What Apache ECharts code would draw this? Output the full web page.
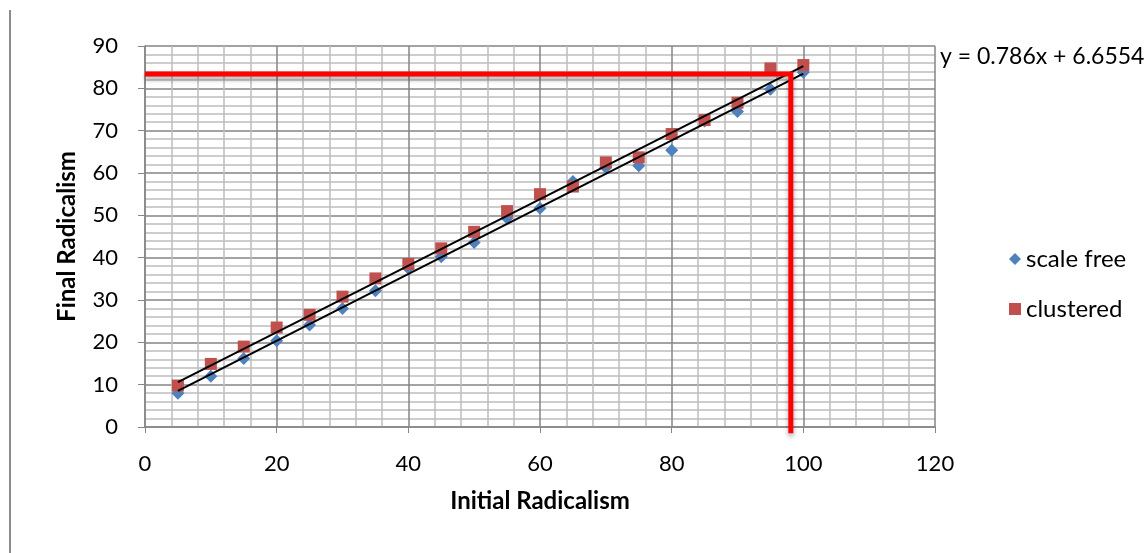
<!DOCTYPE html>
<html>
<head>
<meta charset="utf-8">
<script src="https://cdn.jsdelivr.net/npm/echarts@6/dist/echarts.min.js"></script>
<style>
  html, body { margin: 0; padding: 0; background: #fff; }
  #chart { width: 1148px; height: 553px; }
</style>
</head>
<body>
<div id="chart"></div>
<script>
var initial = [5, 10, 15, 20, 25, 30, 35, 40, 45, 50, 55, 60, 65, 70, 75, 80, 85, 90, 95, 100];
var scaleFree = [8, 12, 16.2, 20.4, 24.1, 28, 32.2, 37.5, 40.2, 43.6, 49.3, 51.7, 58, 61.3, 61.7, 65.4, 72.3, 74.5, 79.8, 83.8];
var clustered = [9.8, 14.9, 19, 23.5, 26.5, 30.8, 35.1, 38.5, 42.2, 46.1, 51, 55, 56.8, 62.5, 63.7, 69.2, 72.5, 76.6, 84.7, 85.5];
var clusteredFit = { slope: 0.786, intercept: 6.6554 }; // from the chart's equation label
var highlightPath = [[0, 83.4], [98.1, 83.4], [98.1, -1.5]];

function pairs(xs, ys) {
    return xs.map(function (x, i) { return [x, ys[i]]; });
}

// least squares, like excel's linear trendline
function fitLine(xs, ys) {
    var n = xs.length, sx = 0, sy = 0, sxx = 0, sxy = 0;
    for (var i = 0; i < n; i++) {
        sx += xs[i]; sy += ys[i]; sxx += xs[i] * xs[i]; sxy += xs[i] * ys[i];
    }
    var slope = (n * sxy - sx * sy) / (n * sxx - sx * sx);
    return { slope: slope, intercept: (sy - slope * sx) / n };
}

function trend(fit) {
    var x0 = initial[0], x1 = initial[initial.length - 1];
    return [[x0, fit.slope * x0 + fit.intercept], [x1, fit.slope * x1 + fit.intercept]];
}

var scaleFreeFit = fitLine(initial, scaleFree);
var font = 'Lato, "Open Sans", sans-serif';

var myChart = echarts.init(document.getElementById('chart'));
var option = {
    animation: false,
    backgroundColor: '#fff',
    textStyle: { fontFamily: font },
    grid: { left: 145, right: 213, top: 46, bottom: 126 },
    legend: {
        orient: 'vertical',
        left: 1004,
        top: 242,
        itemWidth: 12,
        itemHeight: 12,
        itemGap: 26,
        textStyle: { fontSize: 24, color: '#000', fontFamily: font },
        data: [
            { name: 'scale free', icon: 'diamond' },
            { name: 'clustered', icon: 'rect' }
        ]
    },
    graphic: [
        {
            type: 'line',
            shape: { x1: 10, y1: 10, x2: 10, y2: 553 },
            style: { stroke: '#8c8c8c', lineWidth: 2 }
        },
        {
            type: 'text',
            left: 940,
            top: 45,
            style: { text: 'y = 0.786x + 6.6554', fontSize: 23, fill: '#000', fontFamily: font }
        }
    ],
    xAxis: {
        type: 'value',
        min: 0,
        max: 120,
        interval: 20,
        name: 'Initial Radicalism',
        nameLocation: 'middle',
        nameGap: 62,
        nameTextStyle: { fontSize: 24, fontWeight: 'bold', color: '#000' },
        axisLine: { show: true, onZero: false, lineStyle: { color: '#868686', width: 1.5 } },
        axisTick: { show: true, length: 6, lineStyle: { color: '#868686' } },
        axisLabel: { fontSize: 22, color: '#000', margin: 26 },
        splitLine: { show: true, lineStyle: { color: '#858585', width: 1.5 } },
        minorTick: { show: false, splitNumber: 5 },
        minorSplitLine: { show: true, lineStyle: { color: '#bdbdbd', width: 1.5 } }
    },
    yAxis: {
        type: 'value',
        min: 0,
        max: 90,
        interval: 10,
        name: 'Final Radicalism',
        nameLocation: 'middle',
        nameGap: 66,
        nameTextStyle: { fontSize: 24, fontWeight: 'bold', color: '#000' },
        axisLine: { show: true, lineStyle: { color: '#868686', width: 1.5 } },
        axisTick: { show: true, length: 7, lineStyle: { color: '#868686' } },
        axisLabel: { fontSize: 22, color: '#000', margin: 27 },
        splitLine: { show: true, lineStyle: { color: '#858585', width: 1.5 } },
        minorTick: { show: false, splitNumber: 5 },
        minorSplitLine: { show: true, lineStyle: { color: '#bdbdbd', width: 1.5 } }
    },
    series: [
        {
            name: 'scale free',
            type: 'scatter',
            symbol: 'diamond',
            symbolSize: 13,
            itemStyle: { color: '#4F81BD', opacity: 1 },
            data: pairs(initial, scaleFree),
            z: 3
        },
        {
            name: 'clustered',
            type: 'scatter',
            symbol: 'rect',
            symbolSize: 12,
            itemStyle: { color: '#C0504D', opacity: 1 },
            data: pairs(initial, clustered),
            z: 3
        },
        {
            name: 'scale free trend',
            type: 'line',
            data: trend(scaleFreeFit),
            symbol: 'none',
            lineStyle: { color: '#000', width: 2 },
            silent: true,
            z: 4
        },
        {
            name: 'clustered trend',
            type: 'line',
            data: trend(clusteredFit),
            symbol: 'none',
            lineStyle: { color: '#000', width: 2 },
            silent: true,
            z: 4
        },
        {
            name: 'highlight',
            type: 'line',
            data: highlightPath,
            symbol: 'none',
            clip: false,
            lineStyle: {
                color: '#ff0000',
                width: 5,
                join: 'miter',
                shadowColor: 'rgba(0,0,0,0.35)',
                shadowBlur: 5,
                shadowOffsetY: 3
            },
            silent: true,
            z: 5
        }
    ]
};
myChart.setOption(option);
</script>
</body>
</html>
